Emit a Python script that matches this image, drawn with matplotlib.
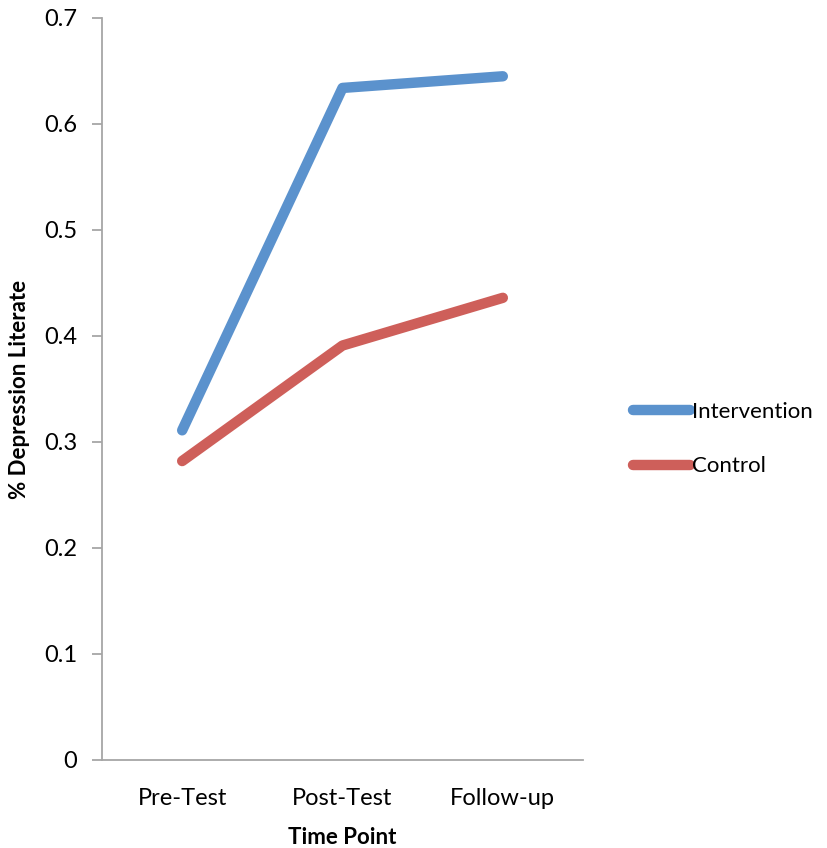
import matplotlib.pyplot as plt

plt.rcParams['font.family'] = ['Lato', 'DejaVu Sans']

time_points = ['Pre-Test', 'Post-Test', 'Follow-up']
intervention = [0.311, 0.634, 0.645]
control = [0.282, 0.391, 0.436]
y_ticks = [0, 0.1, 0.2, 0.3, 0.4, 0.5, 0.6, 0.7]

fig = plt.figure(figsize=(8.28, 8.48), dpi=100)
ax = fig.add_axes([0.1232, 0.1038, 0.5809, 0.875])

x = range(len(time_points))
ax.plot(x, intervention, color='#5B92CD', lw=7.5, solid_capstyle='round', label='Intervention')
ax.plot(x, control, color='#CE5F5A', lw=7.5, solid_capstyle='round', label='Control')

ax.set_xlim(-0.5, 2.5)
ax.set_ylim(0, 0.7)
ax.set_xticks(list(x))
ax.set_xticklabels(time_points)
ax.set_yticks(y_ticks)
ax.set_yticklabels(['0'] + ['%.1f' % v for v in y_ticks[1:]])
ax.tick_params(axis='x', length=0, pad=20, labelsize=17)
ax.tick_params(axis='y', length=7, width=1.3, color='#A6A6A6', pad=11, labelsize=17)

for side in ['top', 'right']:
    ax.spines[side].set_visible(False)
for side in ['left', 'bottom']:
    ax.spines[side].set_color('#A6A6A6')
    ax.spines[side].set_linewidth(1.3)

ax.set_xlabel('Time Point', fontsize=16, fontweight='bold', labelpad=13)
ax.set_ylabel('% Depression Literate', fontsize=16, fontweight='bold', labelpad=10)

fig.legend(loc='center left', bbox_to_anchor=(0.74, 0.482), frameon=False, fontsize=16,
           handlelength=2.6, handletextpad=0.05, labelspacing=1.55)

fig.savefig('out.png', dpi=100)
